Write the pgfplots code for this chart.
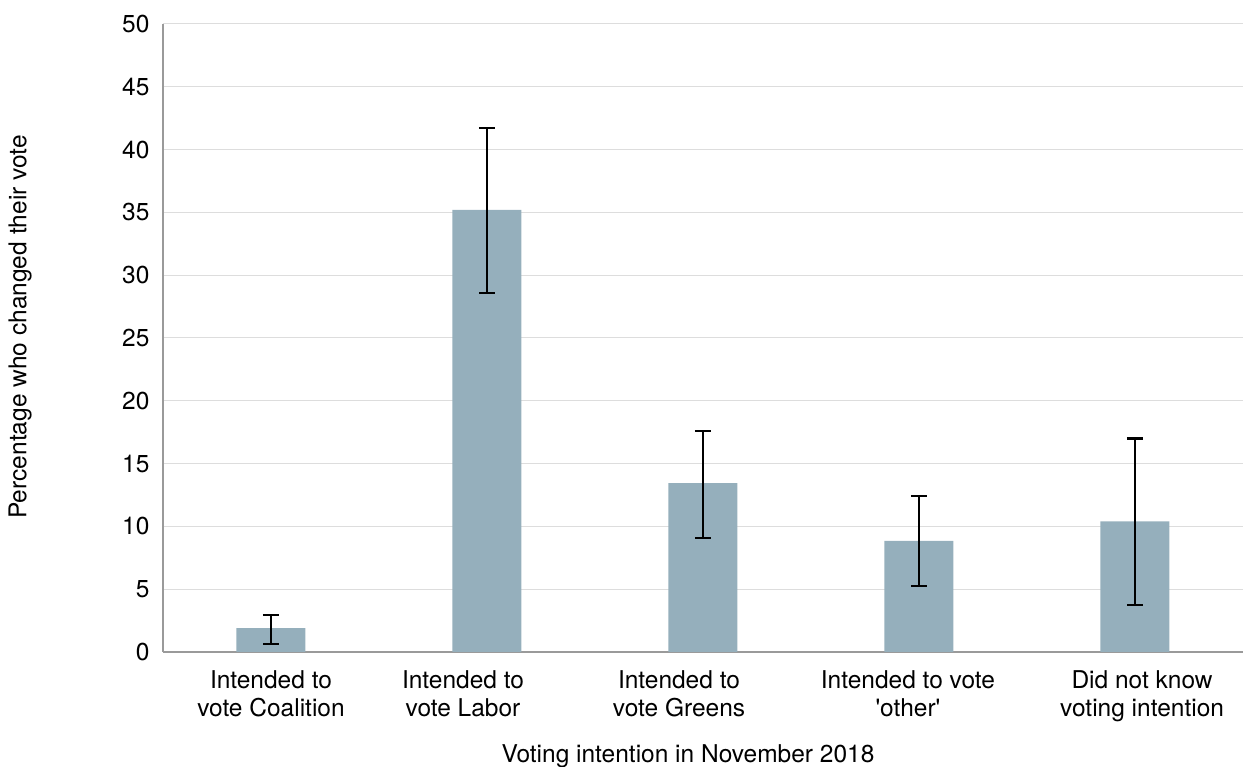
\documentclass[border=0pt]{standalone}
\usepackage{pgfplots}
\pgfplotsset{compat=1.18}
\usepackage{fontspec}
\setmainfont{TeX Gyre Heros}
\definecolor{barblue}{HTML}{95AFBC}
\definecolor{gridgray}{HTML}{DDDDDD}
\definecolor{axisgray}{HTML}{9A9A9A}
\begin{document}
\begin{tikzpicture}
\useasboundingbox (-163pt,-115pt) rectangle (1085pt,652pt);
\begin{axis}[
  scale only axis,
  width=1080pt, height=628pt,
  xmin=-0.5, xmax=4.5,
  ymin=0, ymax=50,
  ytick={0,5,...,50},
  % category label positions (labels are set as centred text blocks)
  xtick={0,0.889,1.889,2.949,4.033},
  xticklabels={{Intended to\\vote Coalition},{Intended to\\vote Labor},{Intended to\\vote Greens},{Intended to vote\\\textquotesingle other\textquotesingle},{Did not know\\voting intention}},
  xticklabel style={align=center, font=\fontsize{24.5}{28}\selectfont, yshift=-15pt},
  yticklabel style={font=\fontsize{24.5}{26}\selectfont, xshift=-10pt},
  /pgf/number format/assume math mode=true,
  major tick length=0pt,
  ymajorgrids,
  grid style={gridgray, line width=1pt},
  axis x line*=bottom,
  axis y line*=left,
  axis line style={axisgray, line width=1.5pt, -},
  xlabel={Voting intention in November 2018},
  ylabel={Percentage who changed their vote},
  label style={font=\fontsize{24.5}{26}\selectfont},
  xlabel style={at={(axis description cs:0.4861,-0.1656)}, anchor=center},
  ylabel style={at={(axis description cs:-0.1324,0.5175)}, anchor=center},
]
\addplot[
  ybar, bar width=69pt, fill=barblue, draw=none,
  error bars/.cd, y dir=both, y explicit,
  error bar style={black, line width=2.2pt},
  error mark options={rotate=90, mark size=8pt, line width=2.2pt, black},
] coordinates {
  (0,1.9)   += (0,1.05) -= (0,1.25)
  (1,35.2)  += (0,6.5)  -= (0,6.6)
  (2,13.45) += (0,4.15) -= (0,4.35)
  (3,8.85)  += (0,3.55) -= (0,3.6)
  (4,10.4)  += (0,6.6)  -= (0,6.65)
};
\end{axis}
\end{tikzpicture}
\end{document}
